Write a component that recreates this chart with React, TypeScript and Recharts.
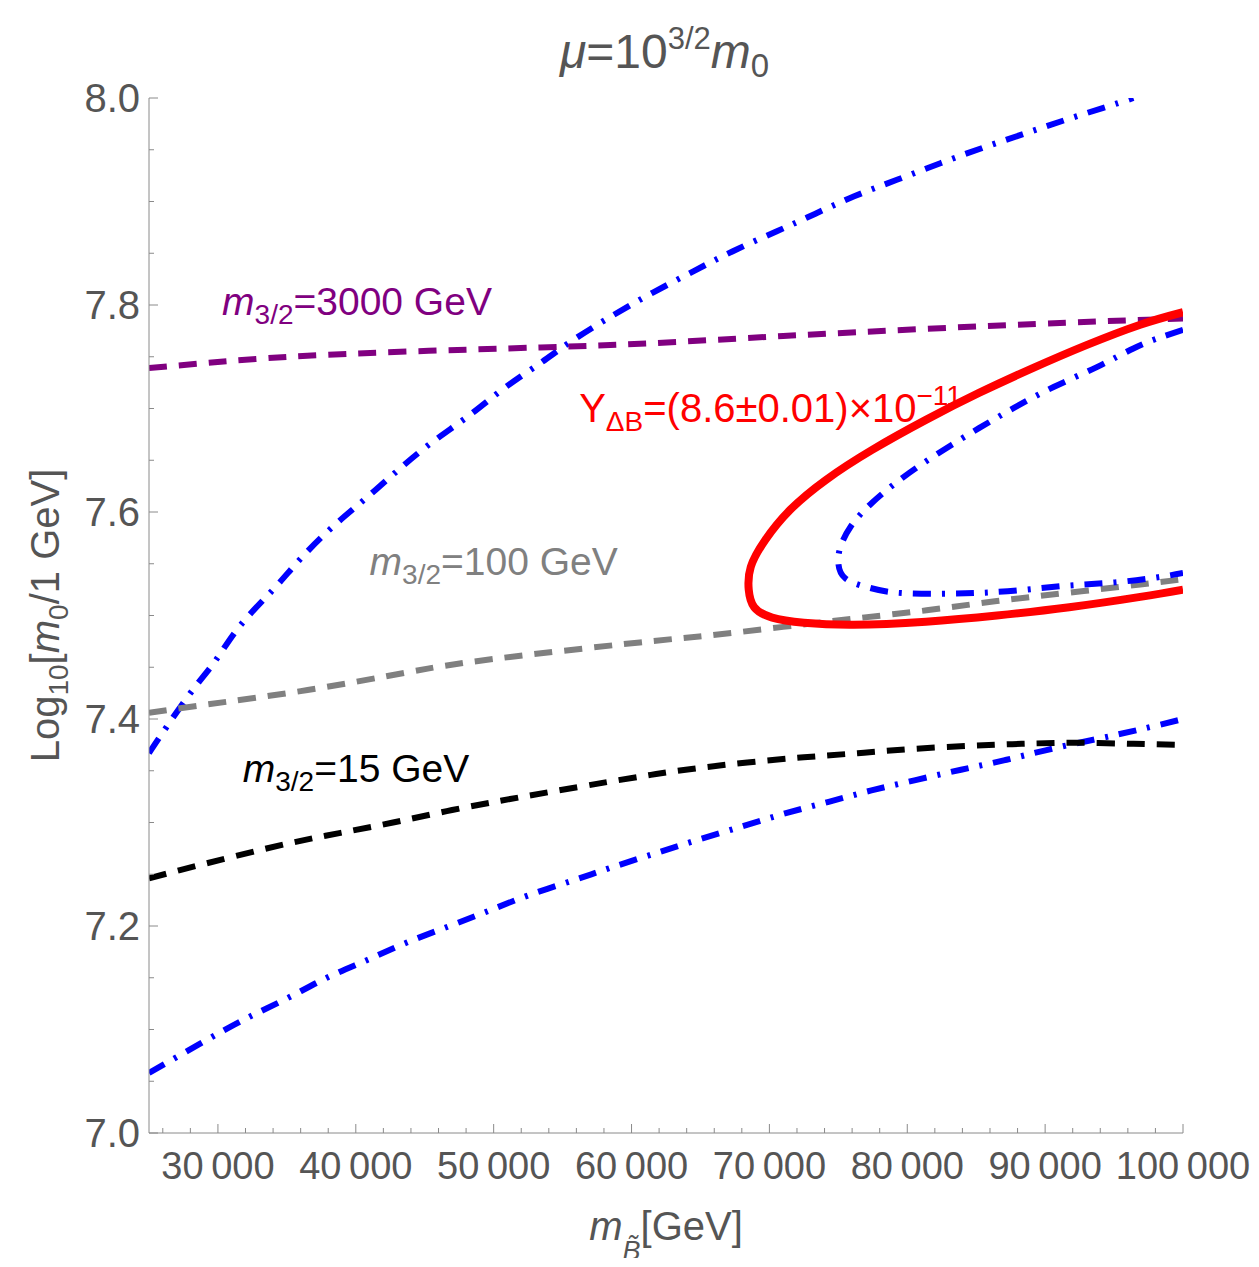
import React from 'react';
import { LineChart, Line, XAxis, YAxis, ReferenceDot } from 'recharts';

// ---------- axes ----------
const X_DOMAIN = [25000, 100000];
const Y_DOMAIN = [7.0, 8.0];
const xMajorTicks = [30000, 40000, 50000, 60000, 70000, 80000, 90000, 100000];
const xTickLabels = ['30\u2009000', '40\u2009000', '50\u2009000', '60\u2009000', '70\u2009000', '80\u2009000', '90\u2009000', '100\u2009000'];
const xAllTicks = [26000, 28000, 30000, 32000, 34000, 36000, 38000, 40000, 42000, 44000, 46000, 48000, 50000, 52000, 54000, 56000, 58000, 60000, 62000, 64000, 66000, 68000, 70000, 72000, 74000, 76000, 78000, 80000, 82000, 84000, 86000, 88000, 90000, 92000, 94000, 96000, 98000, 100000];
const yMajorTicks = [7.0, 7.2, 7.4, 7.6, 7.8, 8.0];
const yTickLabels = ['7.0', '7.2', '7.4', '7.6', '7.8', '8.0'];
const yAllTicks = [7.0, 7.05, 7.1, 7.15, 7.2, 7.25, 7.3, 7.35, 7.4, 7.45, 7.5, 7.55, 7.6, 7.65, 7.7, 7.75, 7.8, 7.85, 7.9, 7.95, 8.0];

// ---------- series ----------
const m32_3000 = [
  { x: 25000, y: 7.739 }, { x: 34000, y: 7.749 }, { x: 43700, y: 7.755 }, { x: 53400, y: 7.759 },
  { x: 61400, y: 7.763 }, { x: 71000, y: 7.770 }, { x: 81400, y: 7.777 }, { x: 91700, y: 7.783 },
  { x: 100000, y: 7.787 },
];
const m32_100 = [
  { x: 25000, y: 7.406 }, { x: 29200, y: 7.414 }, { x: 36500, y: 7.428 }, { x: 43700, y: 7.445 },
  { x: 50000, y: 7.458 }, { x: 60600, y: 7.474 }, { x: 65800, y: 7.481 }, { x: 71000, y: 7.489 },
  { x: 76100, y: 7.497 }, { x: 81400, y: 7.505 }, { x: 86500, y: 7.514 }, { x: 91700, y: 7.522 },
  { x: 96900, y: 7.530 }, { x: 100000, y: 7.535 },
];
const m32_15 = [
  { x: 25000, y: 7.246 }, { x: 27250, y: 7.254 }, { x: 31100, y: 7.267 }, { x: 35200, y: 7.280 },
  { x: 38900, y: 7.290 }, { x: 42700, y: 7.300 }, { x: 46600, y: 7.311 }, { x: 50500, y: 7.321 },
  { x: 54300, y: 7.330 }, { x: 58200, y: 7.339 }, { x: 61400, y: 7.346 }, { x: 64500, y: 7.352 },
  { x: 68400, y: 7.358 }, { x: 72500, y: 7.363 }, { x: 76400, y: 7.367 }, { x: 80300, y: 7.371 },
  { x: 84500, y: 7.374 }, { x: 88300, y: 7.376 }, { x: 92200, y: 7.377 }, { x: 96400, y: 7.376 },
  { x: 100000, y: 7.375 },
];
const blueUpper = [
  { x: 25000, y: 7.367 }, { x: 25800, y: 7.383 }, { x: 28000, y: 7.425 }, { x: 29800, y: 7.456 },
  { x: 31600, y: 7.490 }, { x: 34000, y: 7.525 }, { x: 36000, y: 7.555 }, { x: 38350, y: 7.586 },
  { x: 40800, y: 7.614 }, { x: 43200, y: 7.642 }, { x: 45600, y: 7.668 }, { x: 48300, y: 7.694 },
  { x: 50700, y: 7.719 }, { x: 53400, y: 7.744 }, { x: 55750, y: 7.766 }, { x: 58650, y: 7.790 },
  { x: 61550, y: 7.812 }, { x: 64550, y: 7.833 }, { x: 67350, y: 7.852 }, { x: 70500, y: 7.871 },
  { x: 73300, y: 7.888 }, { x: 76150, y: 7.905 }, { x: 79250, y: 7.921 }, { x: 82400, y: 7.937 },
  { x: 85500, y: 7.952 }, { x: 88600, y: 7.966 }, { x: 91750, y: 7.980 }, { x: 94800, y: 7.993 },
  { x: 96400, y: 8.000 },
];
const blueLower = [
  { x: 25000, y: 7.058 }, { x: 26300, y: 7.068 }, { x: 29200, y: 7.090 }, { x: 32100, y: 7.111 },
  { x: 35000, y: 7.130 }, { x: 37900, y: 7.150 }, { x: 40800, y: 7.167 }, { x: 43700, y: 7.184 },
  { x: 46800, y: 7.200 }, { x: 49700, y: 7.215 }, { x: 52600, y: 7.230 }, { x: 55750, y: 7.244 },
  { x: 58650, y: 7.257 }, { x: 61900, y: 7.271 }, { x: 65000, y: 7.284 }, { x: 68200, y: 7.297 },
  { x: 71200, y: 7.309 }, { x: 74300, y: 7.320 }, { x: 77400, y: 7.331 }, { x: 80600, y: 7.341 },
  { x: 83900, y: 7.351 }, { x: 87000, y: 7.360 }, { x: 90100, y: 7.370 }, { x: 93500, y: 7.380 },
  { x: 96600, y: 7.389 }, { x: 100000, y: 7.400 },
];
const blueInner = [
  { x: 100000, y: 7.776 }, { x: 98200, y: 7.768 }, { x: 96400, y: 7.758 }, { x: 93750, y: 7.740 },
  { x: 90650, y: 7.721 }, { x: 87800, y: 7.701 }, { x: 85200, y: 7.681 }, { x: 82400, y: 7.658 },
  { x: 79750, y: 7.634 }, { x: 77450, y: 7.609 }, { x: 75900, y: 7.586 }, { x: 75150, y: 7.566 },
  { x: 75000, y: 7.551 }, { x: 75500, y: 7.536 }, { x: 77200, y: 7.527 }, { x: 79250, y: 7.522 },
  { x: 82400, y: 7.521 }, { x: 85500, y: 7.522 }, { x: 88600, y: 7.525 }, { x: 91750, y: 7.529 },
  { x: 95050, y: 7.532 }, { x: 98200, y: 7.537 }, { x: 100000, y: 7.541 },
];
const yDeltaB = [
  { x: 100000, y: 7.793 }, { x: 96900, y: 7.781 }, { x: 92950, y: 7.761 }, { x: 89100, y: 7.739 },
  { x: 85200, y: 7.715 }, { x: 81350, y: 7.689 }, { x: 77450, y: 7.660 }, { x: 74100, y: 7.631 },
  { x: 71500, y: 7.602 }, { x: 69700, y: 7.573 }, { x: 68650, y: 7.547 }, { x: 68500, y: 7.525 },
  { x: 68900, y: 7.508 }, { x: 70200, y: 7.498 }, { x: 72500, y: 7.493 }, { x: 76100, y: 7.491 },
  { x: 81350, y: 7.494 }, { x: 86500, y: 7.500 }, { x: 91750, y: 7.508 }, { x: 96900, y: 7.518 },
  { x: 100000, y: 7.525 },
];

const FONT = '"Liberation Sans", Arial, sans-serif';
const FRAME = '#8a8a8a';
const TEXT = '#555555';
const PURPLE = '#800080';
const GRAY = '#808080';
const BLUE = '#0000ff';
const RED = '#ff0000';

const BottomTick = (p: any) => {
  const idx = xMajorTicks.indexOf(p.payload.value);
  const major = idx >= 0;
  return (
    <g>
      <line x1={p.x} y1={p.y} x2={p.x} y2={p.y - (major ? 9 : 5)} stroke={FRAME} strokeWidth={1} />
      {major && (
        <text x={p.x} y={p.y + 46} textAnchor="middle" fontSize={38} fill={TEXT} fontFamily={FONT}>
          {xTickLabels[idx]}
        </text>
      )}
    </g>
  );
};
const TopTick = (p: any) => {
  const major = xMajorTicks.indexOf(p.payload.value) >= 0;
  return <line x1={p.x} y1={p.y} x2={p.x} y2={p.y + (major ? 9 : 5)} stroke={FRAME} strokeWidth={1} />;
};
const isYMajor = (v: number) => yMajorTicks.findIndex((t) => Math.abs(t - v) < 1e-6);
const LeftTick = (p: any) => {
  const idx = isYMajor(p.payload.value);
  const major = idx >= 0;
  return (
    <g>
      <line x1={p.x} y1={p.y} x2={p.x + (major ? 9 : 5)} y2={p.y} stroke={FRAME} strokeWidth={1} />
      {major && (
        <text x={p.x - 9} y={p.y} dy="0.36em" textAnchor="end" fontSize={40} fill={TEXT} fontFamily={FONT}>
          {yTickLabels[idx]}
        </text>
      )}
    </g>
  );
};
const RightTick = (p: any) => {
  const major = isYMajor(p.payload.value) >= 0;
  return <line x1={p.x} y1={p.y} x2={p.x - (major ? 9 : 5)} y2={p.y} stroke={FRAME} strokeWidth={1} />;
};

const titleShape = (p: any) => (
  <text x={p.cx} y={p.cy - 30} textAnchor="middle" fontSize={48} fill={TEXT} fontFamily={FONT}>
    <tspan fontStyle="italic">μ</tspan>
    <tspan>=10</tspan>
    <tspan dy={-19} fontSize={31}>3/2</tspan>
    <tspan dy={19} fontStyle="italic">m</tspan>
    <tspan dy={9} fontSize={33}>0</tspan>
  </text>
);
const XLabel = (p: any) => {
  const vb = p.viewBox;
  const cx = vb.x + vb.width / 2;
  return (
    <text x={cx} y={vb.y + 107} textAnchor="middle" fontSize={40} fill={TEXT} fontFamily={FONT}>
      <tspan fontStyle="italic">m</tspan>
      <tspan dy={20} fontSize={27} fontStyle="italic">{'B\u0303'}</tspan>
      <tspan dy={-20}>[GeV]</tspan>
    </text>
  );
};
const YLabel = (p: any) => {
  const vb = p.viewBox;
  const cx = vb.x + vb.width - 90;
  const cy = vb.y + vb.height / 2;
  return (
    <text x={cx} y={cy} transform={`rotate(-90, ${cx}, ${cy})`} textAnchor="middle" fontSize={40} fill={TEXT} fontFamily={FONT}>
      <tspan>Log</tspan>
      <tspan dy={9} fontSize={28}>10</tspan>
      <tspan dy={-9}>[</tspan>
      <tspan fontStyle="italic">m</tspan>
      <tspan dy={9} fontSize={28}>0</tspan>
      <tspan dy={-9}>/1 GeV]</tspan>
    </text>
  );
};

const mLabel = (color: string, rest: string) => (p: any) => (
  <text x={p.cx} y={p.cy} fontSize={39} fill={color} fontFamily={FONT}>
    <tspan fontStyle="italic">m</tspan>
    <tspan dy={9} fontSize={28}>3/2</tspan>
    <tspan dy={-9}>{rest}</tspan>
  </text>
);
const yLabelShape = (p: any) => (
  <text x={p.cx} y={p.cy} fontSize={40} fill={RED} fontFamily={FONT}>
    <tspan>Y</tspan>
    <tspan dy={9} fontSize={28}>ΔB</tspan>
    <tspan dy={-9}>=(8.6±0.01)×10</tspan>
    <tspan dy={-17} fontSize={28}>−11</tspan>
  </text>
);

const dashed = '18 12';
const dashDot = '18 11 3 11';

export default function App() {
  return (
    <div style={{ width: 1243, height: 1250 }}>
      <style>{'html{overflow:hidden}'}</style>
      <LineChart width={1243} height={1259} margin={{ top: 90, right: 68, bottom: 74, left: 61 }}>
        <XAxis
          dataKey="x" type="number" domain={X_DOMAIN} ticks={xAllTicks} interval={0} allowDataOverflow
          height={60} tickSize={0} tickMargin={0} axisLine={{ stroke: FRAME }} tickLine={false}
          tick={(p: any) => <BottomTick {...p} />} label={<XLabel />}
        />
        <XAxis
          xAxisId="top" orientation="top" dataKey="x" type="number" domain={X_DOMAIN} ticks={xAllTicks} interval={0}
          allowDataOverflow height={0} tickSize={0} tickMargin={0} axisLine={{ stroke: FRAME }} tickLine={false}
          tick={(p: any) => <TopTick {...p} />}
        />
        <YAxis
          type="number" domain={Y_DOMAIN} ticks={yAllTicks} interval={0} allowDataOverflow width={80}
          tickSize={0} tickMargin={0} axisLine={{ stroke: FRAME }} tickLine={false}
          tick={(p: any) => <LeftTick {...p} />} label={<YLabel />}
        />
        <YAxis
          yAxisId="right" orientation="right" type="number" domain={Y_DOMAIN} ticks={yAllTicks} interval={0}
          allowDataOverflow width={0} tickSize={0} tickMargin={0} axisLine={{ stroke: FRAME }} tickLine={false}
          tick={(p: any) => <RightTick {...p} />}
        />
        <Line data={blueUpper} dataKey="y" type="natural" stroke={BLUE} strokeWidth={6} strokeDasharray={dashDot} dot={false} activeDot={false} isAnimationActive={false} />
        <Line data={blueLower} dataKey="y" type="natural" stroke={BLUE} strokeWidth={6} strokeDasharray={dashDot} dot={false} activeDot={false} isAnimationActive={false} />
        <Line data={m32_3000} dataKey="y" type="natural" stroke={PURPLE} strokeWidth={6} strokeDasharray={dashed} dot={false} activeDot={false} isAnimationActive={false} />
        <Line data={m32_100} dataKey="y" type="natural" stroke={GRAY} strokeWidth={6} strokeDasharray={dashed} dot={false} activeDot={false} isAnimationActive={false} />
        <Line data={m32_15} dataKey="y" type="natural" stroke="#000000" strokeWidth={6} strokeDasharray={dashed} dot={false} activeDot={false} isAnimationActive={false} />
        <Line data={yDeltaB} dataKey="y" type="natural" stroke={RED} strokeWidth={8} strokeLinejoin="round" dot={false} activeDot={false} isAnimationActive={false} />
        <Line data={blueInner} dataKey="y" type="natural" stroke={BLUE} strokeWidth={6} strokeDasharray={dashDot} dot={false} activeDot={false} isAnimationActive={false} />
        <ReferenceDot x={62400} y={8.0} r={0} ifOverflow="visible" shape={titleShape} />
        <ReferenceDot x={30300} y={7.79} r={0} ifOverflow="visible" shape={mLabel(PURPLE, '=3000 GeV')} />
        <ReferenceDot x={41000} y={7.539} r={0} ifOverflow="visible" shape={mLabel(GRAY, '=100 GeV')} />
        <ReferenceDot x={31800} y={7.339} r={0} ifOverflow="visible" shape={mLabel('#000000', '=15 GeV')} />
        <ReferenceDot x={56200} y={7.687} r={0} ifOverflow="visible" shape={yLabelShape} />
      </LineChart>
    </div>
  );
}
